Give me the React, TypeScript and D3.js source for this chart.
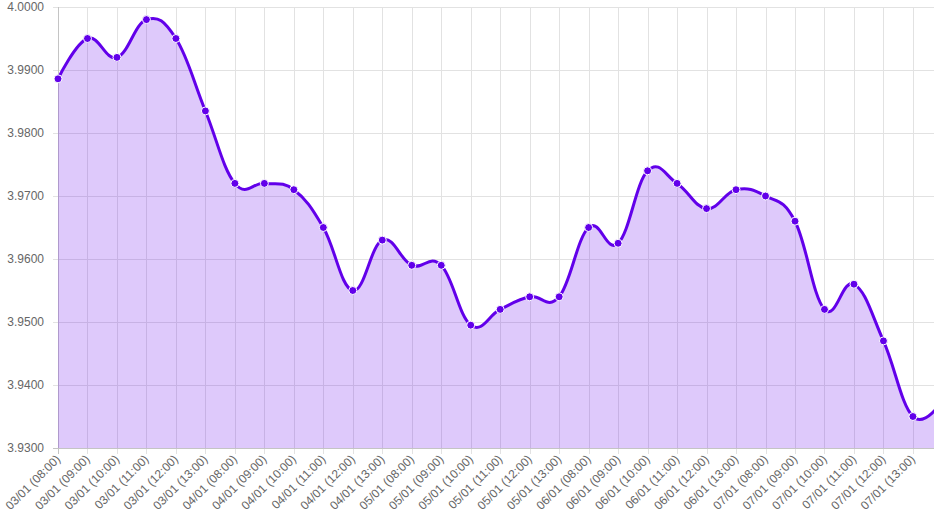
import { useEffect, useRef } from 'react'
import * as d3 from 'd3'

const categories = [
  '03/01 (08:00)', '03/01 (09:00)', '03/01 (10:00)', '03/01 (11:00)', '03/01 (12:00)', '03/01 (13:00)',
  '04/01 (08:00)', '04/01 (09:00)', '04/01 (10:00)', '04/01 (11:00)', '04/01 (12:00)', '04/01 (13:00)',
  '05/01 (08:00)', '05/01 (09:00)', '05/01 (10:00)', '05/01 (11:00)', '05/01 (12:00)', '05/01 (13:00)',
  '06/01 (08:00)', '06/01 (09:00)', '06/01 (10:00)', '06/01 (11:00)', '06/01 (12:00)', '06/01 (13:00)',
  '07/01 (08:00)', '07/01 (09:00)', '07/01 (10:00)', '07/01 (11:00)', '07/01 (12:00)', '07/01 (13:00)',
  '08/01 (08:00)'
]

const rates = [
  3.9886, 3.9950, 3.9920, 3.9980, 3.9950, 3.9835,
  3.9720, 3.9720, 3.9710, 3.9650, 3.9550, 3.9630,
  3.9590, 3.9590, 3.9495, 3.9520, 3.9540, 3.9540,
  3.9650, 3.9625, 3.9740, 3.9720, 3.9680, 3.9710,
  3.9700, 3.9660, 3.9520, 3.9560, 3.9470, 3.9350,
  3.9375
]

const yTicks = [3.93, 3.94, 3.95, 3.96, 3.97, 3.98, 3.99, 4.0]

const LINE = '#6200ea'

export default function App() {
  const svgRef = useRef<SVGSVGElement>(null)

  useEffect(() => {
    document.body.style.margin = '0'
    if (!svgRef.current) return
    const svg = d3.select(svgRef.current)
    svg.selectAll('*').remove()

    const width = 1000
    const margin = { top: 7, left: 58, bottom: 448 }
    const step = 29.48

    const x = d3.scalePoint<string>()
      .domain(categories)
      .range([margin.left, margin.left + step * (categories.length - 1)])

    const y = d3.scaleLinear()
      .domain([3.93, 4.0])
      .range([margin.bottom, margin.top])

    // grid
    const grid = svg.append('g')
    grid.selectAll('line.h')
      .data(yTicks)
      .join('line')
      .attr('x1', margin.left - 5)
      .attr('x2', width)
      .attr('y1', d => Math.round(y(d)) + 0.5)
      .attr('y2', d => Math.round(y(d)) + 0.5)
      .attr('stroke', '#e2e2e2')
    grid.selectAll('line.v')
      .data(categories)
      .join('line')
      .attr('x1', d => Math.round(x(d)!) + 0.5)
      .attr('x2', d => Math.round(x(d)!) + 0.5)
      .attr('y1', margin.top)
      .attr('y2', margin.bottom + 6)
      .attr('stroke', '#e2e2e2')

    // axis lines
    svg.append('line')
      .attr('x1', margin.left + 0.5).attr('x2', margin.left + 0.5)
      .attr('y1', margin.top).attr('y2', margin.bottom + 6)
      .attr('stroke', '#c4c4c4')
    svg.append('line')
      .attr('x1', margin.left - 5).attr('x2', width)
      .attr('y1', margin.bottom + 0.5).attr('y2', margin.bottom + 0.5)
      .attr('stroke', '#c4c4c4')

    const curve = d3.curveCardinal.tension(-0.2)

    const area = d3.area<number>()
      .x((_, i) => x(categories[i])!)
      .y0(margin.bottom)
      .y1(d => y(d))
      .curve(curve)

    const line = d3.line<number>()
      .x((_, i) => x(categories[i])!)
      .y(d => y(d))
      .curve(curve)

    svg.append('path')
      .datum(rates)
      .attr('d', area)
      .attr('fill', 'rgba(98, 0, 234, 0.21)')

    svg.append('path')
      .datum(rates)
      .attr('d', line)
      .attr('fill', 'none')
      .attr('stroke', LINE)
      .attr('stroke-width', 3)

    svg.selectAll('circle')
      .data(rates)
      .join('circle')
      .attr('cx', (_, i) => x(categories[i])!)
      .attr('cy', d => y(d))
      .attr('r', 4)
      .attr('fill', LINE)
      .attr('stroke', '#fff')
      .attr('stroke-width', 1)

    // y labels
    svg.selectAll('text.y')
      .data(yTicks)
      .join('text')
      .attr('x', margin.left - 14)
      .attr('y', d => y(d))
      .attr('dy', '0.35em')
      .attr('text-anchor', 'end')
      .style('font-family', 'Liberation Sans, Arial, sans-serif')
      .style('font-size', '12px')
      .style('fill', '#666')
      .text(d => d.toFixed(4))

    // x labels (last category sits outside the view)
    svg.selectAll('text.x')
      .data(categories.slice(0, 30))
      .join('text')
      .attr('transform', d => `translate(${x(d)! + 3},${margin.bottom + 12}) rotate(-45)`)
      .attr('text-anchor', 'end')
      .style('font-family', 'Liberation Sans, Arial, sans-serif')
      .style('font-size', '12px')
      .style('fill', '#666')
      .text(d => d)
  }, [])

  return (
    <div style={{ position: 'absolute', left: 0, top: 0, width: 934, height: 522, overflow: 'hidden', background: '#fff' }}>
      <svg ref={svgRef} width={1000} height={522} style={{ display: 'block' }} />
    </div>
  )
}
